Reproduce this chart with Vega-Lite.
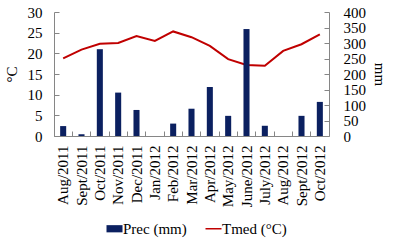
{
  "$schema": "https://vega.github.io/schema/vega-lite/v6.json",
  "autosize": "none",
  "width": 275,
  "height": 124,
  "padding": {"left": 54, "top": 12, "right": 64, "bottom": 105},
  "background": "white",
  "config": {
    "view": {"stroke": null},
    "font": "Liberation Serif",
    "axis": {"labelFont": "Liberation Serif", "titleFont": "Liberation Serif", "labelFontSize": 15, "titleFontSize": 15, "labelColor": "#000", "titleColor": "#000", "titleFontWeight": "normal", "domainColor": "#868686", "tickColor": "#868686", "grid": false},
    "legend": {"labelFont": "Liberation Serif", "labelFontSize": 15, "labelColor": "#000"}
  },
  "data": {"values": [
    {"month": "Aug/2011", "prec": 32, "tmed": 18.8},
    {"month": "Sept/2011", "prec": 6, "tmed": 20.9},
    {"month": "Oct/2011", "prec": 280, "tmed": 22.3},
    {"month": "Nov/2011", "prec": 140, "tmed": 22.5},
    {"month": "Dec/2011", "prec": 84, "tmed": 24.2},
    {"month": "Jan/2012", "prec": 0, "tmed": 23.0},
    {"month": "Feb/2012", "prec": 40, "tmed": 25.3},
    {"month": "Mar/2012", "prec": 88, "tmed": 23.9},
    {"month": "Apr/2012", "prec": 158, "tmed": 21.8},
    {"month": "May/2012", "prec": 65, "tmed": 18.6},
    {"month": "June/2012", "prec": 345, "tmed": 17.2},
    {"month": "July/2012", "prec": 33, "tmed": 17.0},
    {"month": "Aug/2012", "prec": 0, "tmed": 20.6},
    {"month": "Sept/2012", "prec": 65, "tmed": 22.2},
    {"month": "Oct/2012", "prec": 110, "tmed": 24.6}
  ]},
  "encoding": {
    "x": {"field": "month", "type": "nominal", "sort": null,
      "scale": {"paddingInner": 0, "paddingOuter": 0},
      "axis": {"title": null, "labelAngle": -90, "bandPosition": 0, "tickSize": -5, "labelPadding": 14, "domainColor": "#868686"}}
  },
  "layer": [
    {
      "mark": {"type": "line", "strokeWidth": 2},
      "encoding": {
        "y": {"field": "tmed", "type": "quantitative", "scale": {"domain": [0, 30]},
          "axis": {"orient": "left", "title": "°C", "values": [0,5,10,15,20,25,30], "tickSize": -5, "labelPadding": 17, "titlePadding": 8}},
        "color": {"datum": "Tmed (°C)", "type": "nominal"}
      }
    },
    {
      "mark": {"type": "bar", "width": {"band": 0.33}},
      "encoding": {
        "y": {"field": "prec", "type": "quantitative", "scale": {"domain": [0, 400]},
          "axis": {"orient": "right", "title": "mm", "titleAngle": 90, "values": [0,50,100,150,200,250,300,350,400], "tickSize": -5, "labelPadding": 19, "titlePadding": 6}},
        "color": {"datum": "Prec (mm)", "type": "nominal",
          "scale": {"domain": ["Prec (mm)", "Tmed (°C)"], "range": ["#0b2060", "#c00000"]},
          "legend": {"title": null, "orient": "none", "legendX": 53, "legendY": 209, "direction": "horizontal", "symbolSize": 256, "labelOffset": 1, "columnPadding": 15,
            "encode": {"symbols": {"update": {
              "shape": {"signal": "datum.value == 'Prec (mm)' ? 'M-1,-0.45H1V0.45H-1Z' : 'stroke'"},
              "fill": {"signal": "datum.value == 'Prec (mm)' ? '#0b2060' : 'transparent'"},
              "stroke": {"signal": "datum.value == 'Prec (mm)' ? '#0b2060' : '#c00000'"},
              "strokeWidth": {"signal": "datum.value == 'Prec (mm)' ? 0 : 1.5"}
            }}}}
        }
      }
    }
  ],
  "resolve": {"scale": {"y": "independent"}}
}
